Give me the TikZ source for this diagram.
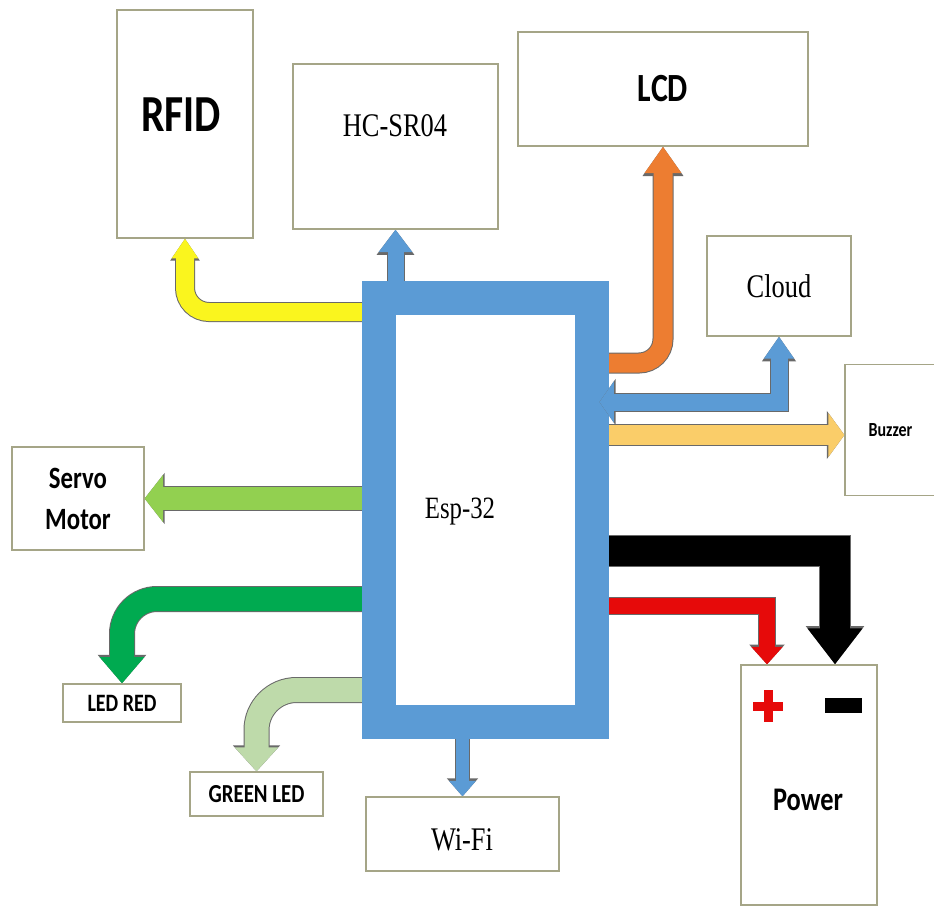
\documentclass[tikz,border=0pt]{standalone}
\usepackage{fontspec}
\setmainfont[FakeStretch=0.8]{Liberation Serif}
\newfontfamily\calibri[FakeStretch=0.8]{Carlito}
\usetikzlibrary{arrows.meta,backgrounds,calc}

\definecolor{espblue}{RGB}{91,155,213}
\definecolor{boxline}{RGB}{165,165,135}
\definecolor{arrowedge}{RGB}{105,105,105}
\definecolor{rfidyellow}{RGB}{250,245,30}
\definecolor{lcdorange}{RGB}{237,125,49}
\definecolor{buzzorange}{RGB}{250,205,105}
\definecolor{servogreen}{RGB}{146,208,80}
\definecolor{ledgreen}{RGB}{0,170,80}
\definecolor{palegreen}{RGB}{190,218,170}
\definecolor{powerred}{RGB}{230,10,10}

\tikzset{
  box/.style={draw=boxline, line width=1.2pt, fill=white, inner sep=0pt},
  fat/.style n args={3}{line width=#1, -{Triangle[length=0pt #2, width=0pt #3]},
    preaction={draw=arrowedge, line width=#1+2pt}},
  sanslabel/.style={font=\calibri\bfseries\fontsize{#1}{#1}\selectfont},
  seriflabel/.style={font=\fontsize{#1}{#1}\selectfont}
}

\begin{document}
\begin{tikzpicture}[x=1pt, y=-1pt]
  \useasboundingbox (0,0) rectangle (934,910);

  % Controller
  \node (esp) at (485.5,510) [draw=espblue, line width=34pt, minimum width=213pt,
    minimum height=424pt, inner sep=0pt, outer sep=0pt]{};
  \node (esptxt) at (460,512) [seriflabel=31]{Esp-32};

  % Top Boxes
  \node (rfid) at (185,124) [box, minimum width=136pt, minimum height=228pt]{};
  \node (rfidtxt) at (181,115) [sanslabel=52]{RFID};
  \node (hcsr) at (395.5,146.5) [box, minimum width=205pt, minimum height=165pt]{};
  \node (hcsrtxt) at (395,126) [seriflabel=33]{HC-SR04};
  \node (lcd) at (663,89) [box, minimum width=290pt, minimum height=114pt, sanslabel=40]{LCD};
  \node (cloud) at (779,286) [box, minimum width=144pt, minimum height=100pt, seriflabel=33]{Cloud};
  \node (buzzer) at (890.5,430) [box, minimum width=91pt, minimum height=131pt, sanslabel=20]{Buzzer};

  % Left Boxes
  \node (servo) at (78,498.5) [box, minimum width=132pt, minimum height=103pt, align=center,
    font=\calibri\bfseries\fontsize{31}{41}\selectfont]{Servo\\Motor};
  \node (ledred) at (122,703) [box, minimum width=118pt, minimum height=38pt, sanslabel=25]{LED RED};
  \node (greenled) at (256.5,794) [box, minimum width=133pt, minimum height=44pt, sanslabel=26]{GREEN LED};

  % Bottom Boxes
  \node (wifi) at (462.5,834) [box, minimum width=193pt, minimum height=74pt]{};
  \node (wifitxt) at (462,840) [seriflabel=33]{Wi-Fi};
  \node (power) at (809,785) [box, minimum width=136pt, minimum height=240pt]{};
  \node (powertxt) at (808,800) [sanslabel=33]{Power};
  \node (plush) at (768,706) [fill=powerred, minimum width=30pt, minimum height=9pt, inner sep=0pt]{};
  \node (plusv) at (768,706) [fill=powerred, minimum width=9pt, minimum height=32pt, inner sep=0pt]{};
  \node (minus) at (843,705) [fill=black, minimum width=37pt, minimum height=15pt, inner sep=0pt]{};

  \coordinate (buzzin) at ($(buzzer.west)+(0,5)$);
  \coordinate (plusin) at ($(power.north)+(-42,0)$);
  \coordinate (minusin) at ($(power.north)+(26,0)$);
  \coordinate (cloudin) at ($(esp.east)+(7.5,-108)$);

  \begin{scope}[on background layer]
    \fill[white] (0,0) rectangle (934,910);

    % Edges out of the controller
    \draw[fat={16pt}{1.4}{2}, espblue] (esp.north -| hcsr.south) -- (hcsr.south);
    \draw[fat={18pt}{1.1}{1.4}, rfidyellow, rounded corners=24pt]
      ([yshift=-14pt]esp.north west) -| (rfid.south);
    \draw[fat={19pt}{1.4}{1.85}, lcdorange, rounded corners=24pt]
      ([yshift=-65pt]esp.north east) -| (lcd.south);
    \draw[fat={20pt}{0.8}{2.15}, buzzorange] (esp.east |- buzzin) -- (buzzin);
    \draw[fat={23pt}{0.8}{2}, servogreen] (esp.west |- servo.east) -- (servo.east);
    \draw[fat={24pt}{1.1}{1.8}, ledgreen, rounded corners=35pt]
      ([yshift=-301pt]esp.north west) -| (ledred.north);
    \draw[fat={24pt}{1}{1.75}, palegreen, rounded corners=40pt]
      ([yshift=-392pt]esp.north west) -| (greenled.north);
    \draw[fat={13pt}{1.2}{2}, espblue] (esp.south -| wifi.north) -- (wifi.north);
    \draw[fat={30pt}{1.2}{1.75}, black] ([yshift=-253pt]esp.north east) -| (minusin);
    \draw[fat={16pt}{1.1}{1.9}, powerred] ([yshift=-308pt]esp.north east) -| (plusin);
  \end{scope}

  % Two-way edge
  \draw[fat={17pt}{1.3}{1.7}, espblue,
    {Triangle[length=0pt 0.85, width=0pt 2.4]}-{Triangle[length=0pt 1.3, width=0pt 1.7]}]
    (cloudin) -| (cloud.south);
\end{tikzpicture}
\end{document}
